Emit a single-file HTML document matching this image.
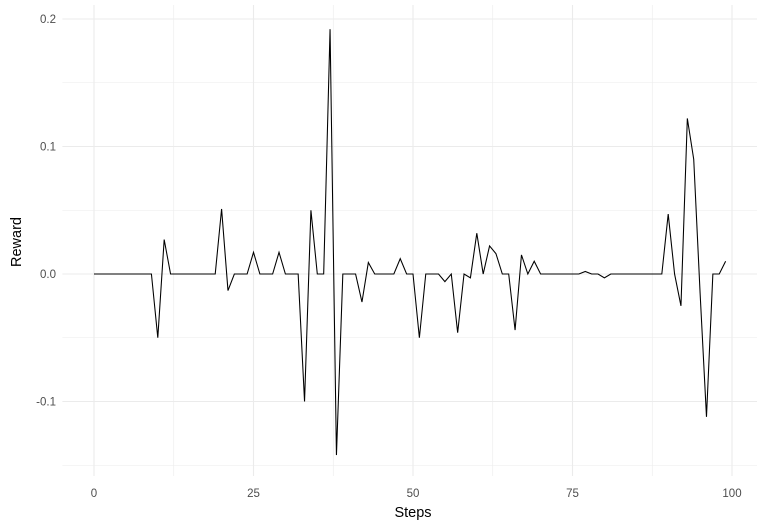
<!DOCTYPE html>
<html><head><meta charset="utf-8"><style>
body{margin:0;background:#fff;}
svg{display:block;font-family:"Liberation Sans",sans-serif;}
</style></head><body>
<svg id="chart" width="765" height="528">
<g id="grid"></g>
<g id="axes"></g>
<path id="line" fill="none" stroke="#000" stroke-width="1.07"/>
<text x="413" y="517" text-anchor="middle" font-size="14.5" fill="#000">Steps</text>
<text x="0" y="0" transform="translate(21,242) rotate(-90)" text-anchor="middle" font-size="14.5" fill="#000">Reward</text>
</svg>
<script>
const rewards = [0,0,0,0,0,0,0,0,0,0,
-0.05,0.027,0,0,0,0,0,0,0,0,
0.051,-0.013,0,0,0,0.017,0,0,0,0.017,
0,0,0,-0.1,0.05,0,0,0.192,-0.142,0,
0,0,-0.022,0.009,0,0,0,0,0.012,0,
0,-0.05,0,0,0,-0.006,0,-0.046,0,-0.003,
0.032,0,0.022,0.016,0,0,-0.044,0.015,0,0.01,
0,0,0,0,0,0,0,0.002,0,0,
-0.003,0,0,0,0,0,0,0,0,0,
0.047,0,-0.025,0.122,0.09,-0.015,-0.112,0,0,0.01];
const xTicks = [0,25,50,75,100];
const xMinor = [12.5,37.5,62.5,87.5];
const yTicks = [-0.1,0,0.1,0.2];
const yMinor = [-0.15,-0.05,0.05,0.15];
const yTickLabels = ["-0.1","0.0","0.1","0.2"];

const X0=62.4, X1=757, Y0=5, Y1=476;
const xs = v => 94 + v*6.38;
const ys = v => 274 - v*1275;
const ns="http://www.w3.org/2000/svg";
const grid=document.getElementById('grid'), axes=document.getElementById('axes');
function ln(x1,y1,x2,y2,w){const l=document.createElementNS(ns,'line');
l.setAttribute('x1',x1);l.setAttribute('y1',y1);l.setAttribute('x2',x2);l.setAttribute('y2',y2);
l.setAttribute('stroke','#ebebeb');l.setAttribute('stroke-width',w);grid.appendChild(l);return l;}
xMinor.forEach(v=>{const l=ln(xs(v),Y0,xs(v),Y1,0.55);

});
yMinor.forEach(v=>{const l=ln(X0,ys(v),X1,ys(v),0.55);

});
xTicks.forEach(v=>{const l=ln(xs(v),Y0,xs(v),Y1,1.1);


const t=document.createElementNS(ns,'text');t.setAttribute('x',xs(v));t.setAttribute('y',497);
t.setAttribute('text-anchor','middle');t.setAttribute('font-size','11.5');t.setAttribute('fill','#4d4d4d');
t.textContent=v;


axes.appendChild(t);});
yTicks.forEach((v,i)=>{const l=ln(X0,ys(v),X1,ys(v),1.1);


const t=document.createElementNS(ns,'text');t.setAttribute('x',56);t.setAttribute('y',ys(v)+4);
t.setAttribute('text-anchor','end');t.setAttribute('font-size','11.5');t.setAttribute('fill','#4d4d4d');
t.textContent=yTickLabels[i];


axes.appendChild(t);});
document.getElementById('line').setAttribute('d',rewards.map((v,i)=>(i?'L':'M')+xs(i).toFixed(2)+','+ys(v).toFixed(2)).join(''));
</script>
</body></html>
